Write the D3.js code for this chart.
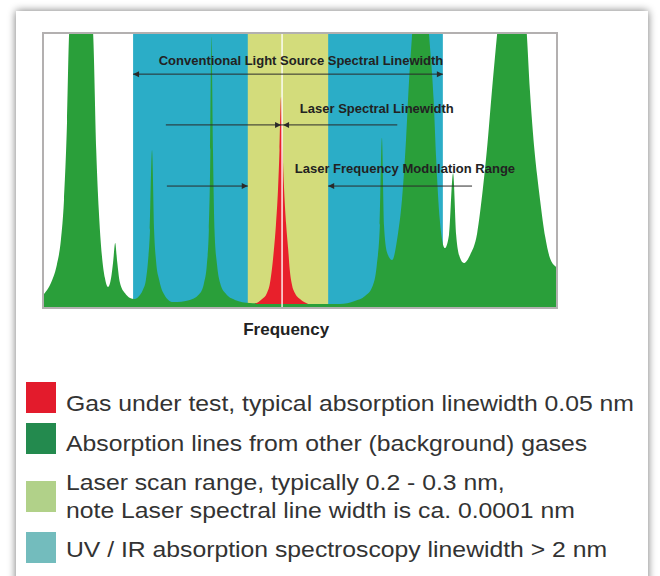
<!DOCTYPE html>
<html>
<head>
<meta charset="utf-8">
<script src="https://cdn.jsdelivr.net/npm/d3@7"></script>
<style>
  html, body { margin: 0; padding: 0; background: #fff; }
  svg { display: block; }
</style>
</head>
<body>
<div id="chart"></div>
<script>
// Spectrum (frequency 0-100, absorption 0-100, >100 is clipped)
const greenFreq = [0, 0.6, 1.6, 2.5, 3.3, 3.9, 4.5, 4.9, 7.0, 9.6, 10.2, 10.7, 11.3, 11.9, 12.5, 13.1, 13.5, 13.9, 14.3, 14.8, 15.8, 16.8, 17.6,
  18.4, 19.3, 19.9, 20.3, 20.7, 21.1, 21.5, 21.9, 22.5, 23.2, 25.2,
  28.5, 30.5, 31.25, 31.8, 32.2, 32.5, 32.7, 33.0, 33.3, 33.8, 34.4, 35.4, 37.3, 40.2, 50, 57.8,
  60.7, 62.7, 64.1, 65.0, 65.6, 66.0, 66.4, 67.0, 68.0, 69.1, 69.9, 70.7, 71.3, 71.9, 73.4, 75.2, 76.1, 76.6, 77.3,
  78.3, 79.1, 79.9, 80.5, 81.25, 82.0, 83.2, 84.6, 85.7, 86.5, 87.5, 88.5, 91.4, 94.3, 94.9, 95.5, 96.3, 96.9, 97.9, 98.8, 100];
const greenAbs = [4.8, 6.2, 9.9, 15.4, 24.5, 39, 68, 100, 150, 100, 57.5, 35.5, 19, 10.6, 7.3, 10.6, 16.5, 23.4, 16.5, 9.2, 5.1, 3.3, 2.9,
  3.7, 6.2, 9.9, 16.5, 28.2, 57.5, 28.2, 16.5, 9.9, 5.5, 1.8,
  2.6, 5.1, 8.8, 15.4, 28.2, 57.5, 99, 57.5, 28.2, 15.4, 8.8, 5.1, 2.6, 1.5, 1.1, 1.1,
  2.2, 4.0, 7.3, 15.4, 30, 62, 30, 20, 17.2, 26.4, 39, 61, 83, 100, 150, 100, 76, 54, 32,
  21.6, 26.4, 49, 26.4, 18, 16.1, 19, 27, 43, 57.5, 79.5, 100, 150, 100, 79.5, 63.7, 48.4, 39, 25.6, 18, 14.7];

const redFreq = [41.2, 42.6, 43.55, 44.1, 44.5, 44.9, 45.3, 45.7, 46.0, 46.3, 46.6, 46.9, 47.3, 47.7, 48.0, 48.4, 49.0, 50.0, 51.6];
const redAbs = [1.1, 2.9, 5.1, 8.4, 13.6, 20.9, 30.0, 42.9, 57.5, 77, 57.5, 42.9, 30.0, 20.9, 13.6, 8.4, 5.1, 2.9, 1.1];

// Bands (frequency ranges)
const uvIrBand = [17.4, 77.9];
const laserScanBand = [39.8, 55.5];
const laserLine = 46.5;

// Annotations: label and where it sits (frequency, absorption)
const annLabels = ['Conventional Light Source Spectral Linewidth', 'Laser Spectral Linewidth', 'Laser Frequency Modulation Range'];
const annLabelX = [50.2, 65.0, 70.5];
const annLabelY = [88.6, 71.1, 49.1];

const legendLabels = [
  ['Gas under test, typical absorption linewidth 0.05 nm'],
  ['Absorption lines from other (background) gases'],
  ['Laser scan range, typically 0.2 - 0.3 nm,', 'note Laser spectral line width is ca. 0.0001 nm'],
  ['UV / IR absorption spectroscopy linewidth > 2 nm']
];
const legendColors = ['#e31b2c', '#238a4e', '#b1d189', '#73bcbd'];

const W = 660, H = 576;
const plot = { left: 44, right: 556, top: 34, bottom: 307 };

const svg = d3.select('#chart').append('svg')
  .attr('width', W).attr('height', H);

const defs = svg.append('defs');
const shadow = defs.append('filter').attr('id', 'shadow')
  .attr('x', '-5%').attr('y', '-5%').attr('width', '110%').attr('height', '110%');
shadow.append('feGaussianBlur').attr('in', 'SourceAlpha').attr('stdDeviation', 4);
shadow.append('feComponentTransfer').append('feFuncA').attr('type', 'linear').attr('slope', 0.55);
const merge = shadow.append('feMerge');
merge.append('feMergeNode');
merge.append('feMergeNode').attr('in', 'SourceGraphic');

defs.append('clipPath').attr('id', 'plotclip')
  .append('rect')
  .attr('x', plot.left).attr('y', plot.top)
  .attr('width', plot.right - plot.left).attr('height', plot.bottom - plot.top);

// card
svg.append('rect')
  .attr('x', 16).attr('y', 11).attr('width', 632).attr('height', 600)
  .attr('fill', '#fff').attr('filter', 'url(#shadow)');

const x = d3.scaleLinear().domain([0, 100]).range([plot.left, plot.right]);
const y = d3.scaleLinear().domain([0, 100]).range([plot.bottom, plot.top]);

const g = svg.append('g').attr('clip-path', 'url(#plotclip)');

g.append('rect')
  .attr('x', x(uvIrBand[0])).attr('y', plot.top)
  .attr('width', x(uvIrBand[1]) - x(uvIrBand[0])).attr('height', plot.bottom - plot.top)
  .attr('fill', '#2badc7');

g.append('rect')
  .attr('x', x(laserScanBand[0])).attr('y', plot.top)
  .attr('width', x(laserScanBand[1]) - x(laserScanBand[0])).attr('height', plot.bottom - plot.top)
  .attr('fill', '#d3dc7b');

const area = d3.area()
  .x(d => x(d[0]))
  .y0(plot.bottom)
  .y1(d => y(d[1]))
  .curve(d3.curveMonotoneX);

g.append('path')
  .datum(d3.zip(greenFreq, greenAbs))
  .attr('d', area)
  .attr('fill', '#2a9f3a');

g.append('path')
  .datum(d3.zip(redFreq, redAbs))
  .attr('d', area)
  .attr('fill', '#e8202b');

// green baseline strip under the red line
g.append('rect')
  .attr('x', plot.left).attr('y', y(1.1))
  .attr('width', plot.right - plot.left).attr('height', plot.bottom - y(1.1))
  .attr('fill', '#2a9f3a');

g.append('line')
  .attr('x1', x(laserLine)).attr('x2', x(laserLine))
  .attr('y1', plot.top).attr('y2', plot.bottom)
  .attr('stroke', '#fff').attr('stroke-width', 1.6).attr('opacity', 0.85);

// plot border
svg.append('rect')
  .attr('x', plot.left - 1).attr('y', plot.top - 1)
  .attr('width', plot.right - plot.left + 2).attr('height', plot.bottom - plot.top + 2)
  .attr('fill', 'none').attr('stroke', '#b3b0b0').attr('stroke-width', 2);

// arrows
const ink = '#2a2a2a';
function arrowHead(px, py, dir) {
  // dir = 1 pointing right, -1 pointing left
  svg.append('path')
    .attr('d', `M${px},${py} l${-dir * 6},-3 l0,6 z`)
    .attr('fill', ink);
}
function hLine(x1, x2, yv) {
  svg.append('line')
    .attr('x1', x(x1)).attr('x2', x(x2))
    .attr('y1', y(yv)).attr('y2', y(yv))
    .attr('stroke', ink).attr('stroke-width', 1);
}

// Conventional light source linewidth = UV/IR band
hLine(uvIrBand[0], uvIrBand[1], 85.3);
arrowHead(x(uvIrBand[0]), y(85.3), -1);
arrowHead(x(uvIrBand[1]), y(85.3), 1);

// Laser spectral linewidth
hLine(23.8, 69.0, 66.7);
arrowHead(x(laserLine) - 1, y(66.7), 1);
arrowHead(x(laserLine) + 1, y(66.7), -1);

// Laser frequency modulation range = laser scan band
hLine(24.0, laserScanBand[0], 44.3);
arrowHead(x(laserScanBand[0]), y(44.3), 1);
hLine(laserScanBand[1], 83.6, 44.3);
arrowHead(x(laserScanBand[1]), y(44.3), -1);

svg.append('g').selectAll('text')
  .data(annLabels)
  .join('text')
  .attr('x', (d, i) => x(annLabelX[i]))
  .attr('y', (d, i) => y(annLabelY[i]))
  .attr('text-anchor', 'middle')
  .attr('font-family', 'Liberation Sans, Arial, sans-serif')
  .attr('font-weight', 'bold')
  .attr('font-size', 13)
  .attr('fill', '#222')
  .text(d => d);

svg.append('text')
  .attr('x', x(47.3)).attr('y', 335)
  .attr('text-anchor', 'middle')
  .attr('font-family', 'Liberation Sans, Arial, sans-serif')
  .attr('font-weight', 'bold')
  .attr('font-size', 17)
  .attr('fill', '#222')
  .text('Frequency');

// legend
const legendRows = [382, 423, 481, 532];
const legendTextY = [411, 451, 490, 557];
const leg = svg.append('g');
legendLabels.forEach((lines, i) => {
  leg.append('rect')
    .attr('x', 26).attr('y', legendRows[i])
    .attr('width', 30).attr('height', 31)
    .attr('fill', legendColors[i]);
  const t = leg.append('text')
    .attr('transform', `translate(66,${legendTextY[i]}) scale(1.1,1)`)
    .attr('font-family', 'Liberation Sans, Arial, sans-serif')
    .attr('font-size', 22.5)
    .attr('fill', '#333');
  lines.forEach((line, j) => {
    t.append('tspan').attr('x', 0).attr('dy', j === 0 ? 0 : 28).text(line);
  });
});
</script>
</body>
</html>
